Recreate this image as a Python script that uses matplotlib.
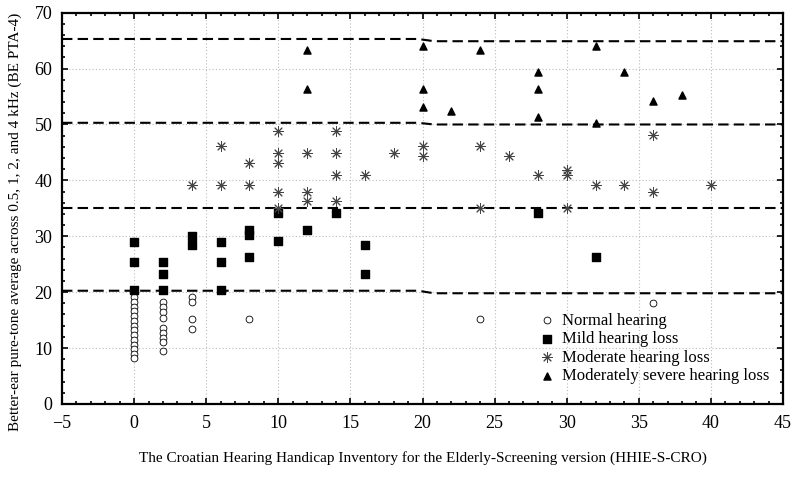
import matplotlib.pyplot as plt
import matplotlib.ticker as ticker

# Datos
normal_x = [0]*14 + [2]*9 + [4]*4 + [8, 24, 36]
normal_y = [19.1, 18.3, 17.4, 16.6, 15.7, 14.9, 14.0, 13.2, 12.3, 11.5, 10.6, 9.8, 8.9, 8.2,
            18.2, 17.4, 16.5, 15.4, 13.6, 12.7, 11.8, 11.0, 9.4,
            19.2, 18.2, 15.2, 13.4,
            15.2, 15.2, 18.1]

mild_x = [0, 0, 0, 2, 2, 2, 4, 4, 6, 6, 6, 8, 8, 8, 10, 10, 12, 14, 16, 16, 28, 32]
mild_y = [29.0, 25.4, 20.3, 25.4, 23.2, 20.3, 30.1, 28.4, 29.0, 25.4, 20.3,
          31.1, 30.2, 26.2, 34.2, 29.1, 31.2, 34.2, 28.4, 23.2, 34.2, 26.2]

moderate_x = [4, 6, 6, 8, 8, 10, 10, 10, 10, 10, 12, 12, 12, 14, 14, 14, 14,
              16, 18, 20, 20, 24, 24, 26, 28, 30, 30, 30, 32, 34, 36, 36, 40]
moderate_y = [39.1, 46.1, 39.1, 43.1, 39.1, 48.9, 44.9, 43.1, 38.0, 35.1, 44.9, 38.0, 36.3,
              48.9, 44.9, 41.0, 36.3, 41.0, 44.9, 46.1, 44.3, 46.1, 35.1, 44.3, 41.0,
              41.9, 41.0, 35.1, 39.1, 39.1, 48.2, 37.9, 39.1]

severe_x = [12, 12, 20, 20, 20, 22, 24, 28, 28, 28, 32, 32, 34, 36, 38]
severe_y = [63.3, 56.4, 64.0, 56.4, 53.1, 52.4, 63.3, 59.4, 56.4, 51.3, 64.0, 50.3, 59.4, 54.2, 55.2]

# Lineas de corte (discontinuas)
cut_x = [-5, 19.7, 20.8, 45]
cut_lines = [[65.3, 65.3, 64.9, 64.9],
             [50.3, 50.3, 50.0, 50.0],
             [35.1, 35.1, 35.1, 35.1],
             [20.25, 20.25, 19.8, 19.8]]

plt.rcParams['font.family'] = ['Liberation Serif', 'DejaVu Serif']

fig = plt.figure(figsize=(7.99, 4.78), dpi=100)
ax = fig.add_axes([0.0776, 0.155, 0.9024, 0.8184])

for yy in cut_lines:
    ax.plot(cut_x, yy, color='black', lw=1.5, dashes=(5, 2.5), zorder=2)

ax.scatter(normal_x, normal_y, marker='o', s=24, facecolors='white', edgecolors='black',
           linewidths=0.6, label='Normal hearing', zorder=3)
ax.scatter(mild_x, mild_y, marker='s', s=26, color='black', label='Mild hearing loss', zorder=3)
ax.scatter(moderate_x, moderate_y, marker=(8, 2, 0), s=50, color='#444444', linewidths=0.7,
           label='Moderate hearing loss', zorder=3)
ax.scatter(severe_x, severe_y, marker='^', s=26, color='black',
           label='Moderately severe hearing loss', zorder=3)

ax.set_xlim(-5, 45)
ax.set_ylim(0, 70)
ax.xaxis.set_major_locator(ticker.MultipleLocator(5))
ax.xaxis.set_minor_locator(ticker.MultipleLocator(1))
ax.yaxis.set_major_locator(ticker.MultipleLocator(10))
ax.yaxis.set_minor_locator(ticker.MultipleLocator(2))
ax.tick_params(which='both', direction='in', top=True, right=True, width=1.2, labelsize=13)
ax.tick_params(which='major', length=4)
ax.tick_params(which='minor', length=2.5)
ax.tick_params(axis='x', which='major', pad=8)
ax.tick_params(axis='y', which='major', pad=7)
for s in ax.spines.values():
    s.set_linewidth(1.6)

ax.grid(True, which='major', color='#bbbbbb', linestyle=(0, (1, 2)), linewidth=0.8)
ax.set_axisbelow(True)

ax.set_xlabel('The Croatian Hearing Handicap Inventory for the Elderly-Screening version (HHIE-S-CRO)',
              fontsize=11, labelpad=14)
ax.set_ylabel('Better-ear pure-tone average across 0.5, 1, 2, and 4 kHz (BE PTA-4)',
              fontsize=11)
ax.yaxis.set_label_coords(-0.055, 0.465)

ax.legend(loc='upper left', bbox_to_anchor=(0.65, 0.25), frameon=False, fontsize=12,
          handletextpad=0.3, labelspacing=0.15, borderaxespad=0, handlelength=1.2)

plt.savefig('out.png', dpi=100)
